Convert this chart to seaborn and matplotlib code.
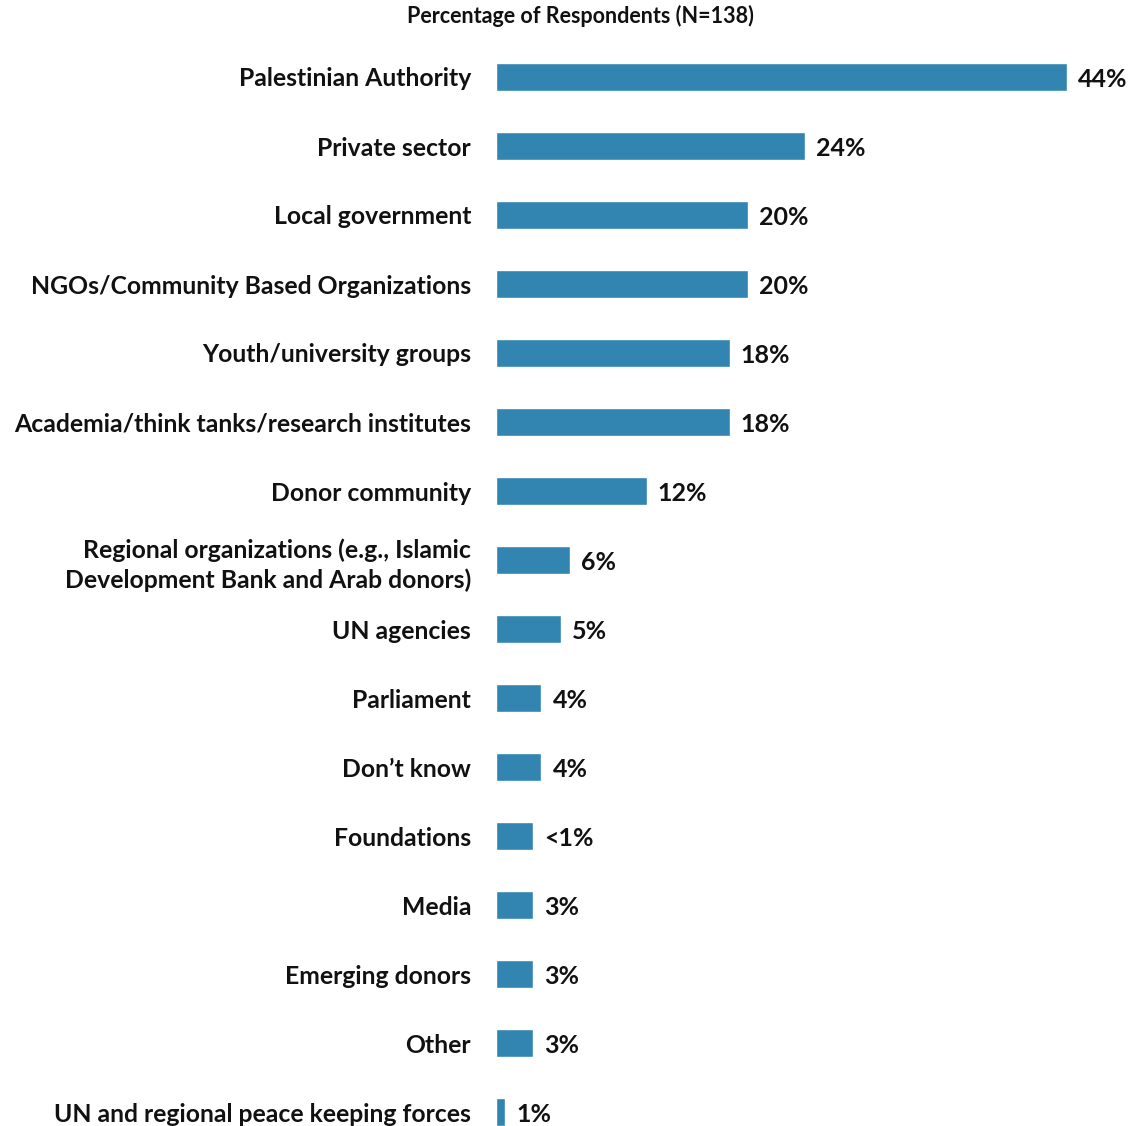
import pandas as pd
import seaborn as sns
import matplotlib.pyplot as plt

categories = [
    "Palestinian Authority",
    "Private sector",
    "Local government",
    "NGOs/Community Based Organizations",
    "Youth/university groups",
    "Academia/think tanks/research institutes",
    "Donor community",
    "Regional organizations (e.g., Islamic\nDevelopment Bank and Arab donors)",
    "UN agencies",
    "Parliament",
    "Don\u2019t know",
    "Foundations",
    "Media",
    "Emerging donors",
    "Other",
    "UN and regional peace keeping forces",
]
# bar lengths as drawn
values = [44, 23.8, 19.4, 19.4, 18, 18, 11.6, 5.7, 5, 3.5, 3.5, 2.85, 2.85, 2.85, 2.85, 0.7]
value_labels = ["44%", "24%", "20%", "20%", "18%", "18%", "12%", "6%", "5%",
                "4%", "4%", "<1%", "3%", "3%", "3%", "1%"]

df = pd.DataFrame({"category": categories, "value": values})

sns.set_style("white")
plt.rcParams["font.family"] = ["Lato", "DejaVu Sans"]

fig = plt.figure(figsize=(11.32, 11.26), dpi=100)
ax = fig.add_axes([496 / 1132, 0.0, (1067 - 496) / 1132, 1 - 42.5 / 1126])

sns.barplot(data=df, x="value", y="category", orient="h", color="#3185B0",
            width=0.406, saturation=1, ax=ax)

ax.bar_label(ax.containers[0], labels=value_labels, padding=8,
             fontsize=18, fontweight="bold", color="#111111")
# nudge the value labels down a touch (offset in points)
for t in ax.texts:
    t.set_va("center")
    t.set_y(-1.5)

ax.set_xlim(0, 44)
ax.set_ylim(15 + 14 / 69, -0.5)
ax.set_xlabel("")
ax.set_ylabel("")
ax.set_xticks([])
ax.tick_params(axis="y", length=0, pad=18)
for lbl in ax.get_yticklabels():
    lbl.set_fontsize(17.8)
    lbl.set_fontweight("bold")
    lbl.set_color("#111111")
    lbl.set_linespacing(1.35)
sns.despine(ax=ax, left=True, bottom=True)

fig.text(580 / 1132, 1 - 16 / 1126, "Percentage of Respondents (N=138)",
         ha="center", va="center", fontsize=15.5, fontweight="bold", color="#111111")

fig.savefig("out.png", dpi=100)
